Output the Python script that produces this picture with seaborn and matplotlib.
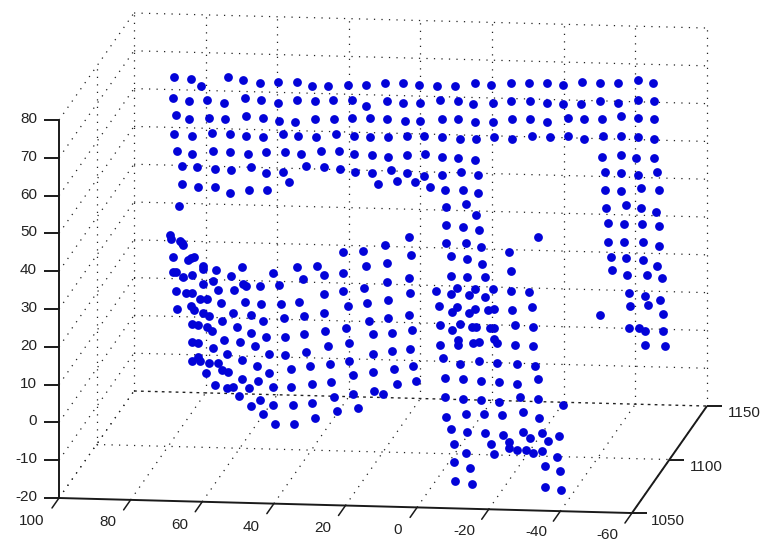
import pandas as pd
import seaborn as sns
import matplotlib.pyplot as plt

# scan points as they land on the picture plane (the 3d view is fixed), left to right
upper_band = [
    (174,77),(191,79),(201,86),(228,77),(243,80),(260,83),(278,82),(297,82),(312,86),(328,86),(348,85),(366,85),(385,83),(403,83),(419,85),
    (437,86),(455,86),(475,83),(491,85),(511,83),(529,83),(547,83),(563,85),(582,82),(600,83),(618,83),(638,80),(653,83),
    (173,98),(189,101),(207,100),(224,103),(245,98),(261,100),(278,103),(297,100),(315,101),(333,100),(352,100),(366,106),(387,101),(403,103),(420,103),
    (440,100),(458,101),(473,104),(493,103),(511,101),(530,101),(547,103),(563,104),(581,104),(600,101),(618,103),(638,100),(654,101),
    (176,115),(189,119),(209,118),(225,119),(246,116),(263,118),(279,121),(295,122),(315,119),(334,119),(352,118),(370,118),(387,119),(405,121),(420,121),
    (442,119),(458,119),(475,122),(493,122),(512,119),(530,119),(547,122),(568,118),(584,119),(602,119),(621,116),(638,118),(654,119),
    (174,134),(192,136),(212,133),(230,134),(246,136),(263,137),(283,134),(298,136),(316,137),(336,134),(354,136),(370,137),(388,137),(407,136),
    (424,136),(442,137),(460,139),(476,139),(494,137),(512,139),(532,136),(550,137),(568,136),(584,139),(603,136),(621,136),(638,137),(654,139),
    (177,151),(192,154),(213,151),(230,152),(248,154),(266,152),(285,152),(301,154),(321,151),(339,151),(354,154),(372,155),(388,157),(407,155),
    (425,154),(442,157),(458,158),(475,160),
    (182,166),(197,167),(215,169),(231,170),(251,167),(266,173),(283,172),(306,166),(324,167),(340,169),(355,172),(372,173),(391,170),(407,173),
    (424,176),(442,175),(461,172),(478,175),
    (182,184),(198,187),(215,187),(230,193),(249,190),(267,190),(289,182),(378,184),(397,181),(415,182),(430,187),
    (179,206),
]

right_column = [
    (602,157),(621,155),(636,158),(654,158),
    (605,172),(621,173),(638,175),(657,172),
    (605,190),(621,191),(641,188),(659,190),
    (606,208),(626,205),(641,208),(656,212),
    (608,223),(624,224),(642,224),(659,226),
    (608,242),(624,242),(643,242),(659,246),
    (611,257),(626,258),(643,260),(657,266),
    (612,270),(627,275),(647,275),(662,278),
    (629,293),(645,296),(660,300),
    (630,306),(648,305),(663,314),(600,315),
    (629,328),(639,328),(645,331),(663,331),
    (645,345),(665,346),
]

lower_left = [
    (170,235),(171,239),(180,241),(182,243),(183,245),(173,257),(191,258),(188,260),(194,257),
    (203,266),(203,269),(216,270),(242,267),(297,267),(173,272),(176,272),(183,277),(192,275),
    (231,276),(273,273),(203,284),(213,281),(243,284),(246,286),(260,286),(279,285),
    (176,291),(186,293),(192,293),(218,290),(234,290),(200,299),(207,299),(221,303),(245,302),
    (261,304),(281,304),(299,302),(177,309),(191,306),(194,310),(203,313),(209,316),(233,313),
    (251,315),(222,321),(263,321),(284,318),(192,324),(198,325),(207,327),(212,331),(237,327),
    (251,333),(266,337),(285,337),(224,340),(240,342),(192,342),(198,343),(213,348),(255,346),
    (227,354),(269,354),(285,355),(198,357),(192,361),(200,361),(242,360),(209,363),(218,363),
    (257,366),(291,369),(222,370),(228,372),(206,373),(269,373),(242,379),(258,381),(215,385),
    (233,387),(227,388),(249,388),(273,387),(291,387),(239,396),(260,400),(251,406),(273,405),
    (293,405),(263,414),(275,424),(294,424),
]

lower_mid = [
    (409,237),(385,245),(343,252),(363,251),(411,255),(387,263),(317,266),(366,266),(324,275),
    (343,273),(409,278),(303,279),(387,282),(364,288),(343,291),(324,294),(410,293),(388,300),
    (367,303),(348,306),(324,313),(304,316),(409,315),(388,318),(369,321),(346,328),(304,334),
    (325,331),(392,333),(412,330),(373,334),(349,343),(328,346),(306,352),(373,354),(392,351),
    (410,349),(349,361),(330,364),(310,366),(413,366),(394,369),(373,372),(353,375),(331,382),
    (312,384),(416,381),(397,384),(374,391),(383,394),(353,394),(334,397),(312,403),(358,408),
    (337,411),(315,418),
]

centre_column = [
    (445,190),(463,190),(478,193),(446,207),(466,204),(476,215),(446,225),(463,227),(479,230),
    (446,243),(466,243),(481,247),(538,237),(451,256),(467,259),(482,264),(509,252),(451,276),
    (467,277),(485,277),(511,271),(436,291),(457,288),(451,294),(475,289),(469,295),(485,297),
    (493,289),(511,291),(529,292),(439,306),(457,307),(452,312),(475,309),(469,313),(488,310),
    (494,309),(512,310),(532,307),(440,325),(460,324),(452,330),(472,327),(476,327),(490,328),
    (494,328),(515,325),(533,327),(440,345),(458,340),(458,345),(473,343),(479,342),(494,339),
    (497,343),(515,345),(533,346),(443,358),(460,364),(479,361),(497,363),(517,364),(535,366),
    (445,378),(463,379),(481,381),(499,382),(517,384),(538,379),(445,397),(463,399),(481,400),
    (499,402),(520,397),(538,399),(563,405),(446,417),(466,414),(484,414),(502,415),(523,412),
    (539,418),(451,429),(467,432),(485,433),(503,435),(523,432),(530,438),(542,433),(548,441),
    (559,436),(454,444),(491,444),(509,442),(466,453),(494,454),(509,448),(517,450),(526,450),
    (533,453),(542,451),(557,457),(454,462),(470,468),(545,466),(560,471),(455,481),(472,484),
    (545,487),(561,490),
]

x_ticks = [100, 80, 60, 40, 20, 0, -20, -40, -60]
y_ticks = [1050, 1100, 1150]
z_ticks = [-20, -10, 0, 10, 20, 30, 40, 50, 60, 70, 80]


def project(x, y, z):
    # matlab style orthographic view, result in picture pixels
    px = 59 + (100 - x) * 3.581 + (y - 1050) * 0.75
    py = 498 + (100 - x) * 0.094 - (y - 1050) * 1.07 - (z + 20) * 3.78
    return px, py


def edge(ax, a, b, **kw):
    pa, pb = project(*a), project(*b)
    ax.plot([pa[0], pb[0]], [pa[1], pb[1]], **kw)


sns.set_style('white')
plt.rcParams['font.family'] = ['Liberation Sans', 'DejaVu Sans']

fig = plt.figure(figsize=(7.68, 5.59), dpi=100)
ax = fig.add_axes([0, 0, 1, 1])

dots = dict(color='#222222', lw=0.9, ls=(0, (1, 5)), zorder=1)
dense = dict(color='#222222', lw=1.0, ls=(0, (2, 3)), zorder=1)
solid = dict(color='#1a1a1a', lw=1.4, zorder=2, solid_capstyle='butt')

# grid on the floor and the two back walls
for x in x_ticks:
    edge(ax, (x, 1050, -20), (x, 1150, -20), **dots)
    edge(ax, (x, 1150, -20), (x, 1150, 80), **dots)
edge(ax, (100, 1100, -20), (100, 1100, 80), **dots)
edge(ax, (100, 1100, -20), (-60, 1100, -20), **dots)
for z in z_ticks:
    edge(ax, (100, 1050, z), (100, 1150, z), **dots)
    style = dense if z == -20 else dots
    edge(ax, (100, 1150, z), (-60, 1150, z), **style)

# solid axes and ticks
edge(ax, (100, 1050, -20), (100, 1050, 80), **solid)
edge(ax, (100, 1050, -20), (-60, 1050, -20), **solid)
edge(ax, (-60, 1050, -20), (-60, 1150, -20), **solid)

for z in z_ticks:
    px, py = project(100, 1050, z)
    ax.plot([px - 15, px], [py, py], **solid)
    ax.text(px - 22, py - 1, str(z), ha='right', va='center', fontsize=11, color='#222222')

x_label_pos = [(32, 521), (108, 522), (180, 525), (251, 527), (323, 528), (398, 530), (464, 531), (536, 532), (607, 535)]
for x, pos in zip(x_ticks, x_label_pos):
    px, py = project(x, 1050, -20)
    ax.plot([px - 7, px], [py + 10, py], color='#1a1a1a', lw=1.1, zorder=2)
    ax.text(pos[0], pos[1], str(x), ha='center', va='center', fontsize=11, color='#222222')

y_label_pos = [(651, 521), (690, 467), (728, 413)]
for y, pos in zip(y_ticks, y_label_pos):
    px, py = project(-60, y, -20)
    ax.plot([px, px + 15], [py, py], **solid)
    ax.text(pos[0], pos[1], str(y), ha='left', va='center', fontsize=11, color='#222222')

points = pd.DataFrame(upper_band + right_column + lower_left + lower_mid + centre_column, columns=['px', 'py'])
sns.scatterplot(data=points, x='px', y='py', ax=ax, s=40, color='#0303d8', linewidth=0, zorder=3, legend=False)

ax.set_xlim(0, 768)
ax.set_ylim(559, 0)
ax.axis('off')
fig.savefig('out.png', dpi=100, facecolor='white')
